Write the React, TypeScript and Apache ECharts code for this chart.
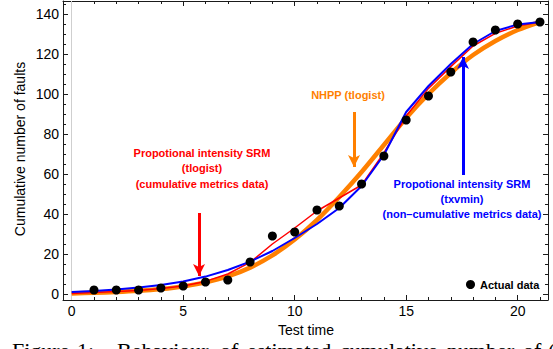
import React, { useEffect, useRef } from 'react';
import * as echarts from 'echarts';

// ---- data ----
const modelTimes = [0, 1, 2, 3, 4, 5, 6, 7, 8, 9, 10, 11, 12, 13, 14, 15, 16, 17, 18, 19, 20, 21];
const nhppTlogist = [0.3, 0.6, 1.0, 1.6, 2.5, 3.8, 5.8, 8.8, 13.2, 19.3, 27.2, 37, 48.5, 61, 74.5, 88, 100, 110.5, 119.5, 126.5, 132, 136];
const srmTlogist = [0.3, 0.8, 1.2, 1.8, 2.7, 4, 6.3, 10, 15.8, 25, 33, 41.5, 48, 54.5, 70.5, 89, 102.8, 113.7, 124, 130.3, 134, 136];
const srmTxvmin = [1, 1.5, 2.3, 3.3, 4.5, 6.2, 8.7, 12, 16.2, 21.5, 28, 35, 43, 54, 69.5, 91, 104, 115, 125, 131.5, 134.8, 136];

const actualTimes = [1, 2, 3, 4, 5, 6, 7, 8, 9, 10, 11, 12, 13, 14, 15, 16, 17, 18, 19, 20, 21];
const actualFaults = [2, 2, 2, 3, 4, 6, 7, 16, 29, 31, 42, 44, 55, 69, 87, 99, 111, 126, 132, 135, 136];

const xMajorTicks = [0, 5, 10, 15, 20];
const xMinorTicks = [0, 1, 2, 3, 4, 5, 6, 7, 8, 9, 10, 11, 12, 13, 14, 15, 16, 17, 18, 19, 20, 21];
const yMajorTicks = [0, 20, 40, 60, 80, 100, 120, 140];
const yMinorTicks = [0, 5, 10, 15, 20, 25, 30, 35, 40, 45, 50, 55, 60, 65, 70, 75, 80, 85, 90, 95, 100, 105, 110, 115, 120, 125, 130, 135, 140, 145];

// arrows: [x, yStart, yEnd]
const redArrow = [5.71, 40.5, 9];
const orangeArrow = [12.66, 91, 63.5];
const blueArrow = [17.55, 59.5, 118.5];

const captionWords = ['Figure', '1:', 'Behaviour', 'of', 'estimated', 'cumulative', 'number', 'of', '('];
const captionX = [12, 77, 117, 220, 247, 340, 447, 523, 548];

const X_MIN = -0.39;
const X_MAX = 21.36;
const Y_MIN = -3;
const Y_MAX = 146.5;

const SANS = '"Liberation Sans", Arial, sans-serif';
const AXIS_COLOR = '#1a1a1a';

function xAxis(position: string, ticks: number[], len: number, labels: boolean, line: boolean) {
  return {
    type: 'value',
    position,
    min: X_MIN,
    max: X_MAX,
    axisLine: { show: line, onZero: false, lineStyle: { color: AXIS_COLOR, width: 1 } },
    axisTick: { show: true, inside: true, length: len, customValues: ticks, lineStyle: { color: AXIS_COLOR, width: 1 } },
    axisLabel: labels
      ? { show: true, customValues: ticks, margin: 4, color: '#000', fontSize: 14, fontFamily: SANS }
      : { show: false },
    splitLine: { show: false },
  };
}

function yAxis(position: string, ticks: number[], len: number, labels: boolean, line: boolean) {
  return {
    type: 'value',
    position,
    min: Y_MIN,
    max: Y_MAX,
    axisLine: { show: line, onZero: false, lineStyle: { color: AXIS_COLOR, width: 1 } },
    axisTick: { show: true, inside: true, length: len, customValues: ticks, lineStyle: { color: AXIS_COLOR, width: 1 } },
    axisLabel: labels
      ? { show: true, customValues: ticks, margin: 4, color: '#000', fontSize: 14, fontFamily: SANS }
      : { show: false },
    splitLine: { show: false },
  };
}

function arrowItem(a: number[], color: string) {
  return [
    { coord: [a[0], a[1]], symbol: 'none', lineStyle: { color, width: 3, type: 'solid' } },
    { coord: [a[0], a[2]], symbol: 'arrow', symbolSize: [9, 12] },
  ];
}

function label(text: string, x: number, y: number, color: string) {
  return {
    type: 'text',
    x,
    y,
    z: 10,
    style: {
      text,
      fill: color,
      fontSize: 11,
      fontWeight: 'bold',
      fontFamily: SANS,
      align: 'center',
      verticalAlign: 'middle',
    },
  };
}

export default function App() {
  const ref = useRef<HTMLDivElement>(null);

  useEffect(() => {
    if (!ref.current) return;
    const chart = echarts.init(ref.current, undefined, { renderer: 'svg' });

    const caption = captionWords.map((w, i) => ({
      type: 'text',
      x: captionX[i],
      y: 350,
      style: {
        text: w,
        fill: '#000',
        fontSize: 22,
        fontFamily: '"Liberation Serif", "Times New Roman", serif',
        align: 'left',
        verticalAlign: 'middle',
      },
    }));

    chart.setOption({
      animation: false,
      backgroundColor: '#ffffff',
      grid: { left: 63, right: 5, top: 1, bottom: 49, containLabel: false, outerBoundsMode: 'none' },
      xAxis: [
        xAxis('bottom', xMajorTicks, 5, true, true),
        xAxis('bottom', xMinorTicks, 3, false, false),
        xAxis('top', xMajorTicks, 5, false, true),
        xAxis('top', xMinorTicks, 3, false, false),
      ],
      yAxis: [
        yAxis('left', yMajorTicks, 5, true, true),
        yAxis('left', yMinorTicks, 3, false, false),
        yAxis('right', yMajorTicks, 5, false, true),
        yAxis('right', yMinorTicks, 3, false, false),
      ],
      legend: {
        show: true,
        data: [{ name: 'Actual data', icon: 'circle' }],
        left: 466,
        top: 279,
        padding: 0,
        itemWidth: 9,
        itemHeight: 9,
        selectedMode: false,
        textStyle: { color: '#000', fontSize: 11, fontWeight: 'bold', fontFamily: SANS },
      },
      series: [
        {
          type: 'line',
          name: 'axis0',
          data: [],
          z: 1,
          silent: true,
          markLine: {
            silent: true,
            z: 1,
            symbol: ['none', 'none'],
            label: { show: false },
            lineStyle: { color: '#cfcfcf', width: 1, type: 'solid' },
            data: [{ xAxis: 0 }],
          },
        },
        {
          type: 'line',
          name: 'NHPP (tlogist)',
          data: modelTimes.map((t, i) => [t, nhppTlogist[i]]),
          smooth: 0.3,
          symbol: 'none',
          showSymbol: false,
          lineStyle: { color: '#ff8000', width: 4.5 },
          itemStyle: { color: '#ff8000' },
          z: 2,
        },
        {
          type: 'line',
          name: 'SRM tlogist',
          data: modelTimes.map((t, i) => [t, srmTlogist[i]]),
          symbol: 'none',
          showSymbol: false,
          lineStyle: { color: '#ff0000', width: 1.5 },
          itemStyle: { color: '#ff0000' },
          z: 3,
        },
        {
          type: 'line',
          name: 'SRM txvmin',
          data: modelTimes.map((t, i) => [t, srmTxvmin[i]]),
          symbol: 'none',
          showSymbol: false,
          lineStyle: { color: '#0000ff', width: 2 },
          itemStyle: { color: '#0000ff' },
          z: 4,
        },
        {
          type: 'scatter',
          name: 'Actual data',
          data: actualTimes.map((t, i) => [t, actualFaults[i]]),
          symbol: 'circle',
          symbolSize: 9,
          itemStyle: { color: '#000', opacity: 1 },
          z: 5,
          markLine: {
            silent: true,
            z: 6,
            label: { show: false },
            symbol: ['none', 'arrow'],
            data: [
              arrowItem(redArrow, '#ff0000'),
              arrowItem(orangeArrow, '#ff8000'),
              arrowItem(blueArrow, '#0000ff'),
            ],
          },
        },
      ],
      graphic: [
        {
          type: 'text',
          x: 20,
          y: 149,
          rotation: Math.PI / 2,
          style: {
            text: 'Cumulative number of faults',
            fill: '#000',
            fontSize: 14,
            fontFamily: SANS,
            align: 'center',
            verticalAlign: 'middle',
          },
        },
        {
          type: 'text',
          x: 306,
          y: 330,
          style: {
            text: 'Test time',
            fill: '#000',
            fontSize: 14,
            fontFamily: SANS,
            align: 'center',
            verticalAlign: 'middle',
          },
        },
        label('Propotional intensity SRM', 202, 153, '#ff0000'),
        label('(tlogist)', 202, 168, '#ff0000'),
        label('(cumulative metrics data)', 202, 184, '#ff0000'),
        label('NHPP (tlogist)', 348, 95, '#ff8000'),
        label('Propotional intensity SRM', 462, 184, '#0000ff'),
        label('(txvmin)', 462, 199, '#0000ff'),
        label('(non\u2013cumulative metrics data)', 462, 214, '#0000ff'),
        ...caption,
      ],
    });

    return () => {
      chart.dispose();
    };
  }, []);

  return (
    <div
      ref={ref}
      style={{ position: 'absolute', left: 0, top: 0, width: 553, height: 349, background: '#fff' }}
    />
  );
}
